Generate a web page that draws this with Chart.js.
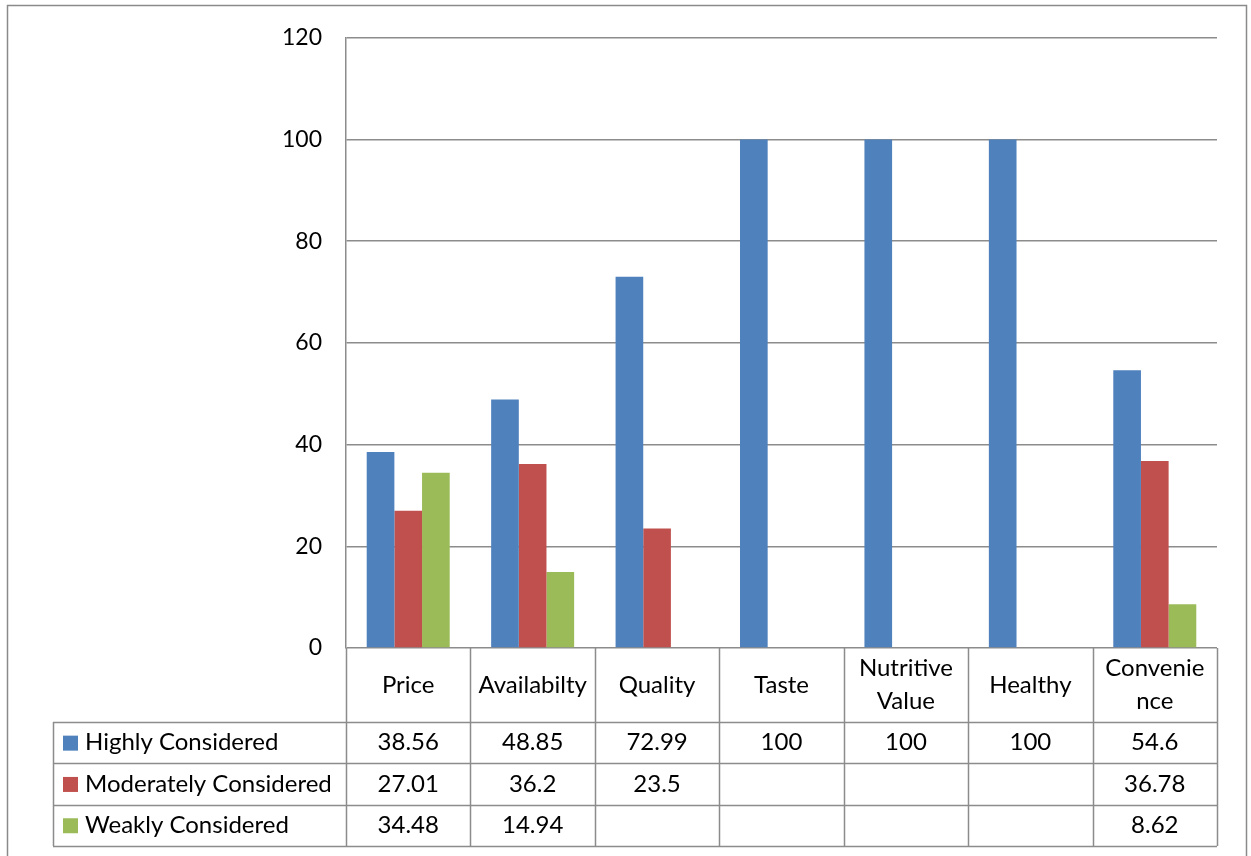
<!DOCTYPE html>
<html>
<head>
<meta charset="utf-8">
<script src="https://cdn.jsdelivr.net/npm/chart.js@4"></script>
<style>
  html, body { margin: 0; padding: 0; background: #fff; }
  #wrap { width: 1251px; height: 856px; }
</style>
</head>
<body>
<div id="wrap"><canvas id="factor-chart" width="1251" height="856"></canvas></div>
<script>
// categories and the three consideration levels (%)
const categories = ['Price', 'Availabilty', 'Quality', 'Taste', ['Nutritive', 'Value'], 'Healthy', ['Convenie', 'nce']];
const highly = [38.56, 48.85, 72.99, 100, 100, 100, 54.6];
const moderately = [27.01, 36.2, 23.5, null, null, null, 36.78];
const weakly = [34.48, 14.94, null, null, null, null, 8.62];
const seriesNames = ['Highly Considered', 'Moderately Considered', 'Weakly Considered'];
const yTicks = [0, 20, 40, 60, 80, 100, 120];

const colors = ['#4F81BD', '#C0504D', '#9BBB59'];
const FONT = 'Lato, "Open Sans", sans-serif';
const lineColor = '#8c8c8c';

// data table under the plot, drawn from the x scale positions
const dataTable = {
    id: 'dataTable',
    beforeDraw(chart) {
        const ctx = chart.ctx;
        ctx.save();
        ctx.strokeStyle = '#8a8a8a';
        ctx.lineWidth = 1.5;
        ctx.strokeRect(7.5, 5.5, 1239, 870);
        ctx.restore();
    },
    afterDraw(chart) {
        const ctx = chart.ctx;
        const x = chart.scales.x;
        const area = chart.chartArea;
        const catW = (area.right - area.left) / categories.length;
        const rowTop = area.bottom;
        const labelBottom = rowTop + 74;
        const rowH = 41.3;
        const tableLeft = 53;
        const rows = [highly, moderately, weakly];
        const tableBottom = labelBottom + rowH * rows.length;

        ctx.save();
        ctx.strokeStyle = lineColor;
        ctx.lineWidth = 1.5;
        ctx.beginPath();
        // vertical lines at category boundaries
        for (let i = 0; i <= categories.length; i++) {
            const px = Math.round(area.left + i * catW) + 0.5;
            ctx.moveTo(px, rowTop);
            ctx.lineTo(px, tableBottom);
        }
        ctx.moveTo(tableLeft + 0.5, labelBottom);
        ctx.lineTo(tableLeft + 0.5, tableBottom);
        // horizontal row lines
        for (let r = 0; r <= rows.length; r++) {
            const py = Math.round(labelBottom + r * rowH) + 0.5;
            ctx.moveTo(tableLeft, py);
            ctx.lineTo(area.right, py);
        }
        ctx.stroke();

        ctx.fillStyle = '#000';
        ctx.font = '24px ' + FONT;
        ctx.textAlign = 'center';
        ctx.textBaseline = 'middle';
        // category labels
        categories.forEach((c, i) => {
            const cx = x.getPixelForValue(i);
            const lines = Array.isArray(c) ? c : [c];
            const midY = (rowTop + labelBottom) / 2;
            lines.forEach((t, k) => {
                ctx.fillText(t, cx, midY + (k - (lines.length - 1) / 2) * 33);
            });
        });
        // legend keys and values
        rows.forEach((vals, r) => {
            const cy = labelBottom + rowH * (r + 0.5);
            ctx.fillStyle = colors[r];
            ctx.fillRect(63, cy - 7, 15, 15);
            ctx.fillStyle = '#000';
            ctx.textAlign = 'left';
            ctx.fillText(seriesNames[r], 85, cy);
            ctx.textAlign = 'center';
            vals.forEach((v, i) => {
                if (v !== null) ctx.fillText(String(v), x.getPixelForValue(i), cy);
            });
        });
        ctx.restore();
    }
};

const ctx = document.getElementById('factor-chart').getContext('2d');
new Chart(ctx, {
    type: 'bar',
    data: {
        labels: categories,
        datasets: seriesNames.map((name, i) => ({
            label: name,
            data: [highly, moderately, weakly][i],
            backgroundColor: colors[i],
            categoryPercentage: 0.667,
            barPercentage: 1.0
        }))
    },
    options: {
        responsive: false,
        animation: false,
        layout: { padding: { left: 0, right: 34, top: 35, bottom: 208 } },
        plugins: { legend: { display: false }, tooltip: { enabled: false } },
        scales: {
            x: { display: false },
            y: {
                min: 0,
                max: 120,
                afterBuildTicks(scale) { scale.ticks = yTicks.map(v => ({ value: v })); },
                afterFit(scale) { scale.width = 346; },
                border: { color: lineColor, width: 1.5 },
                grid: { color: lineColor, lineWidth: 1.5, drawTicks: false },
                ticks: { padding: 24, color: '#000', font: { family: FONT, size: 23 } }
            }
        }
    },
    plugins: [dataTable]
});
</script>
</body>
</html>
